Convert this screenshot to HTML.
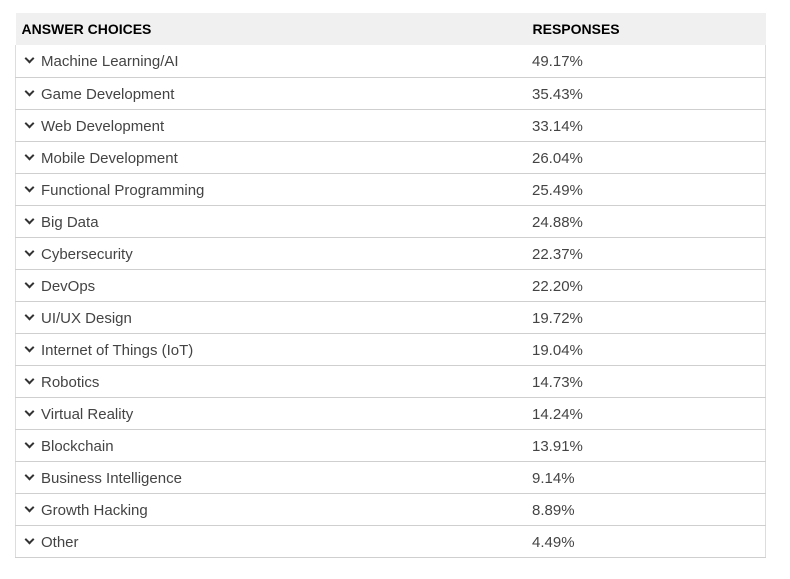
<!DOCTYPE html>
<html><head><meta charset="utf-8"><style>
body{margin:0;background:#fff;width:790px;height:579px;overflow:hidden;font-family:"Liberation Sans",sans-serif}
#tbl{position:absolute;left:15px;top:13px;width:751px;border-collapse:collapse}
#tbl th{background:#f0f0f0;height:32px;text-align:left;font-size:14px;font-weight:bold;color:#000;padding:0;border-right:1px solid #f0f0f0}
#tbl td{height:31px;border-bottom:1px solid #cfcfcf;font-size:15px;color:#444;padding:2px 0 0 0;box-sizing:border-box}
#tbl td.c1{border-left:1px solid #ddd}
#tbl td.c2{border-right:1px solid #ddd}
.chev{display:inline-block;width:5px;height:5px;border-right:2.5px solid #333;border-bottom:2.5px solid #333;transform:rotate(45deg);margin:0 8px 4px 10px}
</style></head><body>
<table id="tbl">
<thead><tr>
<th style="padding-left:6px;width:510px">ANSWER CHOICES</th>
<th>RESPONSES</th></tr></thead>
<tbody id="body"></tbody></table>
<script>
const choices=["Machine Learning/AI","Game Development","Web Development","Mobile Development","Functional Programming","Big Data","Cybersecurity","DevOps","UI/UX Design","Internet of Things (IoT)","Robotics","Virtual Reality","Blockchain","Business Intelligence","Growth Hacking","Other"];
const responses=[49.17,35.43,33.14,26.04,25.49,24.88,22.37,22.20,19.72,19.04,14.73,14.24,13.91,9.14,8.89,4.49];
const body=document.getElementById('body');
choices.forEach((c,i)=>{
 const tr=document.createElement('tr');
 
 
 tr.style.height='32px';
 const td1=document.createElement('td');td1.className='c1';
 
 
 const ch=document.createElement('span');ch.className='chev';
 
 
 td1.appendChild(ch);td1.appendChild(document.createTextNode(c));
 const td2=document.createElement('td');td2.className='c2';
 
 
 td2.textContent=responses[i].toFixed(2)+'%';
 tr.appendChild(td1);tr.appendChild(td2);body.appendChild(tr);
});
</script>
</body></html>
